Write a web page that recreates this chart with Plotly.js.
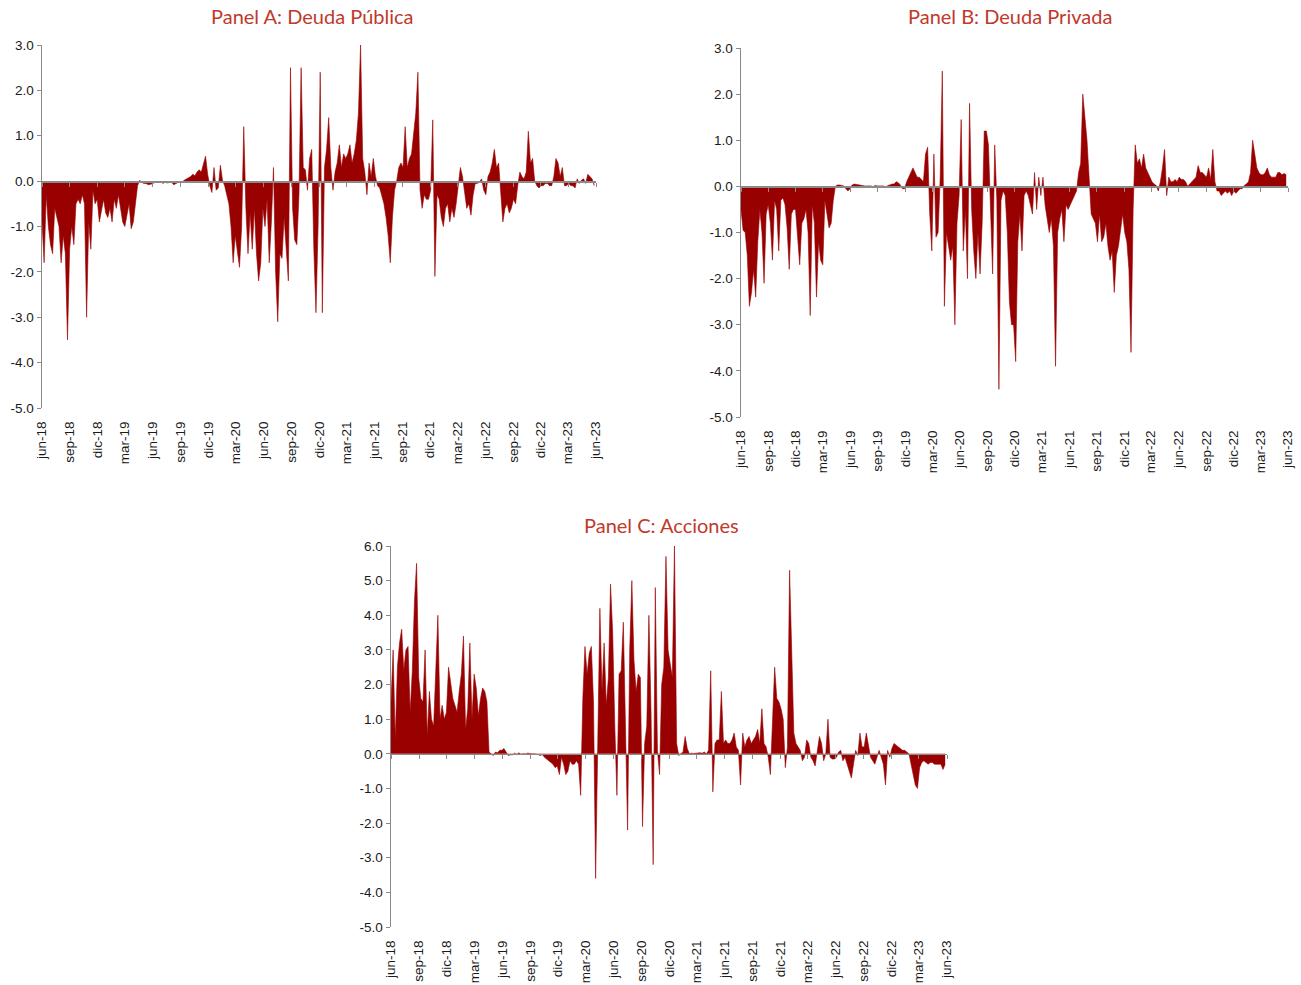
<!DOCTYPE html>
<html>
<head>
<meta charset="utf-8">
<script src="https://cdn.plot.ly/plotly-3.0.1.min.js"></script>
<style>html,body{margin:0;padding:0;background:#fff;}#chart{width:1301px;height:985px;}</style>
</head>
<body>
<div id="chart"></div>
<script>
// Weekly readings (start 2018-06-01, one value per week)
const startDate = '2018-06-01';

const tickDates = ['2018-06-01','2018-09-01','2018-12-01','2019-03-01','2019-06-01','2019-09-01','2019-12-01',
  '2020-03-01','2020-06-01','2020-09-01','2020-12-01','2021-03-01','2021-06-01','2021-09-01','2021-12-01',
  '2022-03-01','2022-06-01','2022-09-01','2022-12-01','2023-03-01','2023-06-01'];
const tickLabels = ['jun-18','sep-18','dic-18','mar-19','jun-19','sep-19','dic-19','mar-20','jun-20','sep-20','dic-20',
  'mar-21','jun-21','sep-21','dic-21','mar-22','jun-22','sep-22','dic-22','mar-23','jun-23'];

const yTickValsAB = [-5,-4,-3,-2,-1,0,1,2,3];
const yTickTextAB = ['-5.0','-4.0','-3.0','-2.0','-1.0','0.0','1.0','2.0','3.0'];
const yTickValsC = [-5,-4,-3,-2,-1,0,1,2,3,4,5,6];
const yTickTextC = ['-5.0','-4.0','-3.0','-2.0','-1.0','0.0','1.0','2.0','3.0','4.0','5.0','6.0'];

const panelTitles = ['Panel A: Deuda Pública','Panel B: Deuda Privada','Panel C: Acciones'];

const deudaPublica = [
  -0.9,-1.8,-0.3,-1.0,-1.4,-1.6,-0.6,-0.8,-1.0,-1.8,-1.2,-1.6,-3.5,
  -1.5,-1.0,-1.4,-0.5,-0.4,-0.5,-0.3,-0.5,-3.0,-0.9,-1.5,-0.2,-0.5,
  -0.4,-0.9,-0.6,-0.4,-0.7,-0.8,-0.6,-0.9,-0.4,-0.6,-0.3,-0.6,-0.9,
  -1.0,-0.7,-0.5,-1.05,-0.9,-0.5,-0.1,0.02,-0.03,-0.05,-0.05,-0.08,-0.07,
  -0.06,-0.03,-0.02,-0.03,-0.02,-0.05,-0.02,-0.04,-0.03,-0.02,-0.08,-0.05,-0.03,
  -0.03,-0.02,0.02,0.05,0.08,0.1,0.15,0.12,0.2,0.25,0.2,0.35,0.55,
  0.15,-0.1,-0.25,0.3,-0.2,-0.15,0.35,0.02,-0.1,-0.3,-0.5,-1.0,-1.8,
  -1.2,-1.6,-1.9,-1.0,1.2,-0.6,-1.6,-0.7,-1.5,-0.6,-1.6,-2.2,-1.8,
  -0.6,-1.0,-0.4,-1.8,-0.9,0.3,-2.0,-3.1,-1.6,-1.7,-0.8,-1.5,-2.2,
  2.5,-0.6,-1.3,-1.4,-0.3,2.5,0.3,0.25,-0.2,0.5,0.7,-1.5,-2.9,
  -1.0,2.4,-2.9,0.3,0.7,1.4,0.3,-0.2,0.2,0.4,0.8,0.3,0.6,
  0.5,0.6,0.8,0.4,0.6,0.9,1.5,3.0,0.5,0.2,-0.3,0.4,0.1,
  0.5,0.1,-0.1,-0.15,-0.3,-0.5,-0.8,-1.2,-1.8,-0.8,-0.2,0.0,0.3,
  0.4,0.3,1.2,0.3,0.5,0.6,1.0,1.5,2.4,-0.2,-0.6,-0.3,-0.4,
  -0.4,-0.2,1.35,-2.1,-0.3,-0.4,-0.8,-1.0,-0.6,-0.5,-0.9,-0.6,-0.8,
  -0.5,-0.1,0.3,0.1,-0.3,-0.6,-0.5,-0.75,-0.3,-0.05,-0.05,-0.02,0.05,
  -0.2,-0.3,0.1,0.2,0.4,0.7,0.3,0.4,-0.3,-0.9,-0.6,-0.5,-0.7,
  -0.6,-0.4,-0.5,-0.1,0.2,0.1,0.05,0.2,1.1,0.4,0.5,0.0,-0.1,
  -0.15,-0.1,-0.1,-0.05,-0.05,-0.1,-0.1,0.1,0.5,0.4,0.1,0.3,-0.1,
  -0.1,-0.05,-0.1,-0.1,-0.15,0.05,-0.05,0.02,0.05,-0.05,0.15,0.1,0.05,-0.1
];

const deudaPrivada = [
  -0.5,-0.95,-1.0,-1.5,-2.6,-2.3,-1.8,-2.4,-1.2,-0.5,-1.0,-2.1,-0.6,
  -0.4,-0.8,-1.6,-0.3,-0.5,-1.4,-0.3,-0.25,-0.4,-0.9,-1.8,-0.6,-0.5,
  -0.5,-1.2,-1.7,-0.8,-0.7,-0.5,-1.0,-2.8,-0.4,-0.8,-2.4,-1.2,-1.6,
  -1.7,-0.3,-0.6,-0.9,-0.8,-0.3,0.0,0.03,0.03,0.02,0.01,-0.05,-0.1,
  -0.05,0.03,0.05,0.04,0.03,0.02,0.02,0.01,0.01,0.01,0.01,-0.01,0.02,
  0.01,0.01,0.02,0.01,-0.03,0.02,0.03,0.05,0.05,0.1,0.08,0.03,-0.05,
  -0.05,0.1,0.2,0.3,0.4,0.3,0.2,0.2,0.15,0.1,0.7,0.85,-0.6,
  -1.4,0.7,-1.1,-1.0,0.2,2.5,-2.6,-1.0,-1.3,-1.6,-1.3,-3.0,-0.8,
  -0.2,1.45,-1.4,-0.5,-2.0,1.8,-0.5,-1.4,-2.0,-1.0,-1.9,-0.8,1.2,
  1.2,0.9,-0.5,-1.9,0.9,-0.3,-4.4,-0.3,-0.1,-0.2,-1.0,-2.5,-3.0,
  -3.0,-3.8,-1.2,-0.6,-1.4,-0.2,-0.1,-0.2,-0.4,-0.6,0.3,-0.5,0.2,
  -0.2,0.2,-0.4,-0.7,-1.0,-0.7,-1.3,-3.9,-1.0,-0.7,-0.5,-1.2,-0.4,
  -0.5,-0.4,-0.3,-0.2,-0.1,0.3,0.5,2.0,1.5,1.0,0.2,-0.6,-0.7,
  -0.8,-1.2,-0.6,-1.2,-1.1,-0.8,-1.3,-1.6,-1.4,-2.3,-1.5,-1.3,-0.9,
  -0.6,-1.0,-1.2,-1.8,-3.6,-0.5,0.9,0.5,0.6,0.4,0.7,0.4,0.3,
  0.2,0.1,0.05,0.02,-0.1,0.1,0.4,0.8,-0.2,0.2,0.1,0.1,0.15,
  0.1,0.2,0.15,0.15,0.1,0.0,0.05,0.1,0.15,0.2,0.45,0.3,0.3,
  0.25,0.2,0.4,0.15,0.8,0.1,-0.1,-0.1,-0.2,-0.15,-0.1,-0.15,-0.1,
  -0.2,-0.1,-0.15,-0.1,-0.05,-0.05,0.02,0.05,0.1,0.3,1.0,0.7,0.4,
  0.3,0.25,0.25,0.3,0.4,0.25,0.2,0.2,0.2,0.3,0.3,0.25,0.28,0.25
];

const acciones = [
  1.5,3.0,0.4,2.5,3.2,3.6,2.4,3.0,3.1,1.2,2.4,4.4,5.5,
  2.2,1.6,1.5,3.0,0.5,1.8,1.0,0.8,2.5,4.0,1.0,1.4,1.0,
  1.2,2.5,2.0,1.6,1.4,1.2,1.8,2.3,3.4,0.7,1.3,3.2,1.0,
  2.3,1.9,1.1,1.6,1.9,1.8,1.5,0.05,0.0,-0.05,0.05,0.03,0.1,
  0.1,0.15,0.05,-0.05,-0.03,-0.03,0.02,-0.02,0.03,-0.02,0.01,-0.01,0.02,
  0.01,0.0,0.01,0.0,-0.02,-0.05,-0.02,-0.1,-0.15,-0.2,-0.25,-0.3,-0.4,
  -0.35,-0.6,-0.1,-0.3,-0.6,-0.5,-0.2,-0.3,-0.3,-0.2,-0.3,-1.2,1.6,
  3.1,2.3,2.9,3.1,1.5,-3.6,0.3,4.2,1.8,3.2,1.4,2.2,4.9,
  3.5,0.8,-1.2,2.3,2.4,3.8,0.5,-2.2,3.0,5.0,2.7,1.8,2.3,
  2.2,-2.1,0.3,0.8,4.0,1.2,-3.2,4.8,0.1,-0.6,2.0,2.5,5.7,
  3.0,2.6,2.2,6.0,0.3,-0.05,0.0,0.05,0.5,0.15,0.0,0.02,0.01,
  0.02,0.02,0.03,0.02,0.05,0.0,0.1,2.4,-1.1,0.3,0.4,0.4,1.8,
  0.3,0.4,0.3,0.3,0.4,0.6,0.2,0.1,-0.9,0.6,0.2,0.4,0.5,
  0.3,0.4,0.5,0.7,0.3,1.3,0.3,0.2,-0.1,-0.6,1.2,2.5,1.6,
  1.5,1.3,1.0,-0.4,0.2,5.3,3.2,0.6,0.3,0.2,0.1,-0.2,-0.1,
  0.4,0.3,-0.1,-0.2,-0.35,0.05,0.5,0.3,-0.2,0.0,1.0,-0.1,-0.15,
  -0.15,-0.1,0.05,0.1,-0.2,-0.1,-0.3,-0.5,-0.7,-0.3,0.1,-0.05,0.6,
  0.2,0.2,0.6,0.3,-0.1,-0.2,-0.3,-0.1,0.1,-0.1,-0.3,-0.9,0.1,
  -0.1,0.15,0.3,0.25,0.2,0.15,0.1,0.1,0.05,0.0,-0.3,-0.6,-0.9,
  -1.0,-0.4,-0.25,-0.2,-0.25,-0.3,-0.25,-0.25,-0.3,-0.3,-0.3,-0.3,-0.45,-0.3
];

// ---- build ----
const W = 1301, H = 985;
function weekDates(n){
  const t0 = Date.parse(startDate + 'T00:00:00Z');
  const out = [];
  for (let i = 0; i < n; i++) out.push(new Date(t0 + i*7*86400000).toISOString().slice(0,10));
  return out;
}
const xRange = ['2018-06-01','2023-06-01'];
const red = '#990000';
const grey = '#8a8a8a';
const tickFont = {family:'Liberation Sans Narrow, Liberation Sans, Arial Narrow, sans-serif', size:13.5, color:'#1a1a1a'};

const panels = [
  {data: deudaPublica, x0:42,  x1:596,  yt:45,  yb:408, yr:[-5,3], tv:yTickValsAB, tt:yTickTextAB, title: panelTitles[0], tx:312, ty:16},
  {data: deudaPrivada, x0:741, x1:1288, yt:48,  yb:417, yr:[-5,3], tv:yTickValsAB, tt:yTickTextAB, title: panelTitles[1], tx:1010, ty:16},
  {data: acciones,     x0:391, x1:947,  yt:546, yb:927, yr:[-5,6], tv:yTickValsC,  tt:yTickTextC,  title: panelTitles[2], tx:661, ty:525}
];

const traces = [];
const layout = {
  width: W, height: H, margin:{l:0,r:0,t:0,b:0},
  paper_bgcolor:'#fff', plot_bgcolor:'rgba(0,0,0,0)',
  showlegend:false, annotations:[]
};

panels.forEach((p, k) => {
  const xi = k+1, zi = k+4;
  const xn = 'x' + (xi===1?'':xi), yn = 'y' + (xi===1?'':xi), zn = 'x' + zi;
  const xk = 'xaxis' + (xi===1?'':xi), yk = 'yaxis' + (xi===1?'':xi), zk = 'xaxis' + zi;
  const dom = [p.x0/W, p.x1/W];
  const ydom = [1 - p.yb/H, 1 - p.yt/H];
  const zeroPos = ydom[0] + (0 - p.yr[0])/(p.yr[1]-p.yr[0])*(ydom[1]-ydom[0]);
  const dates = weekDates(p.data.length);

  traces.push({
    type:'scatter', mode:'lines', x: dates, y: p.data, xaxis: xn, yaxis: yn,
    fill:'tozeroy', fillcolor: red, line:{color: red, width:0.6}, hoverinfo:'x+y'
  });
  traces.push({
    type:'scatter', mode:'lines', x:[dates[0]], y:[null], xaxis: zn, yaxis: yn,
    hoverinfo:'skip', showlegend:false
  });

  layout[xk] = {
    domain: dom, anchor: yn, type:'date', range: xRange,
    tickmode:'array', tickvals: tickDates, ticktext: tickLabels, tickangle:-90,
    ticks:'outside', ticklen:7, tickcolor:'rgba(0,0,0,0)',
    showline:false, showgrid:false, zeroline:false, tickfont: tickFont, fixedrange:true
  };
  layout[zk] = {
    overlaying: xn, anchor:'free', position: zeroPos, type:'date', range: xRange,
    tickmode:'array', tickvals: tickDates, showticklabels:false,
    ticks:'outside', ticklen:4, tickwidth:1, tickcolor: grey,
    showline:true, linecolor: grey, linewidth:1.5, showgrid:false, zeroline:false, layer:'above traces'
  };
  layout[yk] = {
    domain: ydom, anchor: xn, range: p.yr, tickmode:'array', tickvals: p.tv, ticktext: p.tt,
    ticks:'outside', ticklen:4, tickcolor: grey, tickwidth:1,
    showline:true, linecolor: grey, linewidth:1.5, showgrid:false, zeroline:false,
    tickfont: tickFont, fixedrange:true
  };
  layout.annotations.push({
    text: p.title, xref:'paper', yref:'paper', x: p.tx/W, y: 1 - p.ty/H,
    xanchor:'center', yanchor:'middle', showarrow:false,
    font:{family:'Lato, Open Sans, sans-serif', size:20, color:'#C0392B'}
  });
});

Plotly.newPlot('chart', traces, layout, {displayModeBar:false, staticPlot:true});
</script>
</body>
</html>
